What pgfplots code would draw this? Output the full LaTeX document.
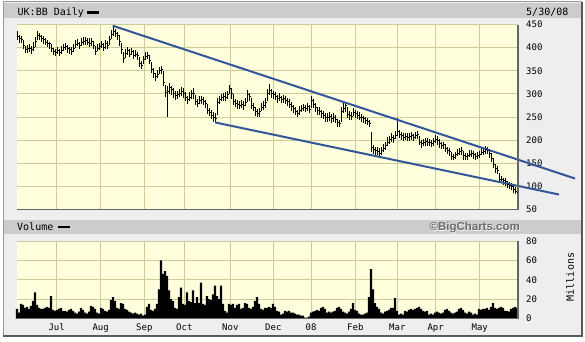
\documentclass[border=0pt]{standalone}
\usepackage{fontspec}
\usepackage{pgfplots}
\usepackage{pgfplotstable}
\pgfplotsset{compat=1.18}
\newfontfamily\mono{DejaVu Sans Mono}
\newfontfamily\bcfont{Liberation Sans}
\definecolor{bgray}{HTML}{EEEEEE}
\definecolor{barg}{HTML}{CCCCCC}
\definecolor{plotbg}{HTML}{FFFFDD}
\definecolor{gridc}{HTML}{CCCC99}
\definecolor{axg}{HTML}{666666}
\definecolor{trend}{HTML}{335599}
\pgfdeclareplotmark{ctick}{\pgfpathmoveto{\pgfpointorigin}\pgfpathlineto{\pgfpoint{1.1pt}{0pt}}\pgfusepathqstroke}
\pgfdeclareplotmark{otick}{\pgfpathmoveto{\pgfpointorigin}\pgfpathlineto{\pgfpoint{-1.1pt}{0pt}}\pgfusepathqstroke}

\pgfplotstableread{
d c u l
0 425 10 8
1 420 8 10
2 418 7 8
3 405 12 7
4 396 8 8
5 399 7 10
6 398 10 7
7 395 8 8
8 400 13 7
9 414 10 13
10 427 8 10
11 424 7 8
12 420 8 7
13 418 7 10
14 412 8 7
15 410 7 8
16 408 5 10
17 398 10 8
18 391 8 7
19 389 7 8
20 393 8 7
21 390 7 8
22 394 10 7
23 400 8 8
24 403 7 8
25 398 8 10
26 395 7 8
27 392 10 7
28 399 8 8
29 407 10 8
30 410 8 7
31 405 8 8
32 411 10 7
33 414 8 8
34 416 7 10
35 412 8 7
36 410 10 8
37 413 8 10
38 405 10 8
39 392 12 8
40 399 8 7
41 403 7 8
42 406 8 7
43 401 10 8
44 408 8 10
45 404 10 8
46 418 8 13
47 428 10 10
48 436 12 10
49 430 10 8
50 426 8 10
51 414 13 10
52 395 15 8
53 377 13 10
54 388 8 10
55 393 8 8
56 386 10 7
57 391 8 8
58 384 10 8
59 386 8 7
60 383 8 10
61 366 13 8
62 362 10 8
63 374 8 10
64 380 10 7
65 383 8 8
66 372 13 7
67 353 15 8
68 345 10 10
69 338 8 10
70 341 10 7
71 350 8 8
72 353 7 10
73 325 24 7
74 303 16 10
75 305 13 56
76 313 10 13
77 310 8 13
78 300 13 8
79 296 10 10
80 299 8 10
81 301 10 8
82 306 8 10
83 302 10 10
84 292 13 7
85 288 8 10
86 293 10 8
87 300 8 10
88 302 10 13
89 284 13 8
90 280 10 8
91 285 10 7
92 288 8 10
93 284 10 8
94 279 8 10
95 264 15 8
96 260 10 8
97 253 13 8
98 250 10 10
99 246 13 10
100 282 10 27
101 288 8 10
102 292 8 7
103 295 7 10
104 293 10 8
105 298 8 10
106 312 8 13
107 300 13 10
108 284 15 8
109 280 10 8
110 278 8 10
111 274 10 7
112 278 8 8
113 276 8 10
114 281 10 7
115 298 10 15
116 294 8 10
117 276 15 8
118 270 10 8
119 262 10 10
120 258 10 8
121 261 8 10
122 270 10 8
123 276 8 10
124 282 10 13
125 300 10 15
126 307 14 10
127 300 10 8
128 298 8 10
129 295 10 8
130 290 8 10
131 292 10 8
132 288 8 8
133 290 7 10
134 286 10 8
135 284 8 10
136 278 10 8
137 272 10 8
138 268 8 10
139 262 10 8
140 258 8 8
141 265 8 10
142 268 7 8
143 270 8 7
144 268 7 8
145 272 8 8
146 266 10 7
147 285 10 15
148 278 10 8
149 270 10 10
150 264 8 10
151 262 10 8
152 258 8 10
153 254 10 8
154 250 8 10
155 248 10 8
156 252 8 10
157 246 10 8
158 250 8 10
159 244 10 8
160 238 8 10
161 236 8 8
162 262 10 22
163 268 13 10
164 275 8 15
165 256 15 8
166 254 10 10
167 252 8 8
168 260 10 8
169 258 8 10
170 254 8 8
171 250 10 7
172 248 8 8
173 246 7 8
174 242 8 7
175 240 7 8
176 236 8 7
177 185 32 10
178 180 10 10
179 178 8 10
180 176 10 8
181 172 10 8
182 178 8 10
183 182 10 8
184 188 8 10
185 196 10 8
186 202 8 10
187 205 10 8
188 204 8 10
189 210 10 8
190 218 29 10
191 212 10 8
192 210 8 10
193 206 10 8
194 208 8 8
195 205 10 7
196 207 8 8
197 210 7 10
198 206 8 8
199 210 8 7
200 212 7 10
201 196 13 7
202 192 8 8
203 194 8 7
204 198 7 10
205 196 8 8
206 195 7 8
207 192 8 7
208 198 7 10
209 202 10 8
210 200 8 10
211 192 10 8
212 188 8 8
213 190 7 10
214 182 10 8
215 178 8 8
216 176 7 10
217 165 10 8
218 163 8 7
219 168 7 8
220 172 8 7
221 176 7 8
222 178 8 10
223 166 10 8
224 164 8 7
225 166 7 8
226 170 8 7
227 172 7 8
228 168 8 8
229 165 7 8
230 166 8 7
231 170 7 8
232 174 8 7
233 176 8 8
234 180 8 10
235 178 7 8
236 172 8 10
237 160 12 8
238 148 13 8
239 138 10 10
240 134 10 8
241 116 13 8
242 114 8 7
243 112 7 8
244 110 8 10
245 104 8 7
246 102 7 8
247 100 8 7
248 94 10 8
249 90 8 7
250 87 7 7
}\price

\pgfplotstableread{
d v
0 10
1 6
2 15
3 14
4 11
5 12
6 10
7 13
8 18
9 27
10 14
11 11
12 10
13 10
14 11
15 12
16 11
17 23
18 9
19 8
20 9
21 10
22 11
23 8
24 8
25 7
26 9
27 10
28 8
29 6
30 5
31 7
32 11
33 9
34 6
35 5
36 7
37 13
38 12
39 10
40 6
41 5
42 11
43 10
44 8
45 7
46 9
47 19
48 22
49 18
50 11
51 10
52 16
53 15
54 10
55 9
56 7
57 6
58 5
59 6
60 5
61 4
62 5
63 3
64 4
65 12
66 15
67 9
68 8
69 10
70 15
71 30
72 60
73 46
74 49
75 44
76 29
77 20
78 18
79 11
80 10
81 22
82 32
83 15
84 14
85 27
86 18
87 17
88 29
89 16
90 22
91 16
92 37
93 15
94 14
95 23
96 20
97 19
98 25
99 34
100 23
101 20
102 34
103 15
104 8
105 6
106 15
107 14
108 15
109 11
110 14
111 15
112 10
113 11
114 16
115 15
116 11
117 10
118 12
119 18
120 22
121 15
122 10
123 9
124 11
125 11
126 12
127 11
128 15
129 12
130 8
131 7
132 4
133 5
134 8
135 7
136 8
137 6
138 6
139 5
140 4
141 4
142 3
143 3
144 1
145 1
146 2
147 6
148 7
149 8
150 9
151 8
152 11
153 12
154 10
155 6
156 7
157 6
158 7
159 8
160 11
161 12
162 10
163 7
164 6
165 5
166 7
167 10
168 16
169 9
170 8
171 5
172 4
173 4
174 5
175 6
176 22
177 51
178 30
179 16
180 12
181 10
182 6
183 5
184 7
185 8
186 9
187 11
188 11
189 21
190 8
191 4
192 5
193 4
194 8
195 7
196 9
197 10
198 9
199 10
200 11
201 12
202 10
203 8
204 7
205 8
206 4
207 5
208 4
209 6
210 7
211 6
212 5
213 6
214 9
215 10
216 8
217 6
218 5
219 6
220 7
221 10
222 11
223 9
224 6
225 5
226 7
227 6
228 4
229 5
230 4
231 10
232 9
233 10
234 10
235 11
236 9
237 12
238 16
239 11
240 10
241 11
242 12
243 11
244 8
245 8
246 7
247 10
248 11
249 12
250 11
}\volume

\pgfplotsset{
  chartbase/.style={
    scale only axis, width=501pt,
    xmin=0, xmax=250.5,
    xtick={19.85,41.85,63.65,83.65,106.65,128.15,147,169.15,190.15,209.35,231.35},
    grid=major, major grid style={gridc, line width=0.9pt},
    axis background/.style={fill=plotbg},
    axis line style={draw=none},
    tick style={draw=none}, major tick length=0pt,
    yticklabel pos=right,
    yticklabel style={font=\mono\fontsize{9}{10}\selectfont, anchor=west, inner sep=0pt, xshift=8pt},
    /pgf/number format/assume math mode=true,
    clip=false,
  }
}

\begin{document}
\begin{tikzpicture}[x=1pt,y=1pt]
\path[use as bounding box] (0,0) rectangle (585,341);
\fill[white] (0,0) rectangle (585,341);
\fill[bgray] (3,5) rectangle (582,339);
\draw[gray!80, line width=1pt] (3,5) -- (3,339) -- (582,339);
\draw[black!65, line width=1.2pt] (3,5) -- (582,5) -- (582,339);
% title bars
\fill[barg] (4,322.5) rectangle (581,338);
\node[anchor=base west, inner sep=0pt, font=\mono\fontsize{10}{12}\selectfont] at (17.5,325.3) {UK:BB Daily};
\fill[black] (87.3,327) rectangle (99.3,330.3);
\node[anchor=base west, inner sep=0pt, font=\mono\fontsize{10}{12}\selectfont] at (526,325.3) {5/30/08};
\fill[barg] (4,107) rectangle (581,121);
\node[anchor=base west, inner sep=0pt, font=\mono\fontsize{10}{12}\selectfont] at (17,110.3) {Volume};
\fill[black] (58.3,112.7) rectangle (70,115.3);
\node[anchor=base east, inner sep=0pt, font=\bcfont\bfseries\fontsize{11.5}{13}\selectfont, text=white] at (520.6,109.7) {\textcopyright BigCharts.com};
\node[anchor=base east, inner sep=0pt, font=\bcfont\bfseries\fontsize{11.5}{13}\selectfont, text=black!58] at (520,110.3) {\textcopyright BigCharts.com};
\node[rotate=90, inner sep=0pt, font=\mono\fontsize{10}{12}\selectfont] at (570,64) {Millions};

% price panel
\begin{axis}[chartbase, at={(17pt,131.5pt)}, anchor=south west, height=185pt,
  ymin=50, ymax=450, ytick={50,100,...,450}, xticklabels={}]
\addplot[black, line width=0.9pt, only marks, mark=ctick,
  error bars/.cd, y dir=both, y explicit, error mark=none,
  error bar style={line width=0.9pt, black}]
  table[x=d, y=c, y error plus=u, y error minus=l] {\price};
\addplot[black, line width=0.9pt, only marks, mark=otick, restrict x to domain=0:250.5]
  table[x expr=\thisrow{d}+1, y=c] {\price};
\addplot[trend, line width=2pt] coordinates {(47.85,447.4) (279,117)};
\addplot[trend, line width=2pt] coordinates {(99,238.3) (271,82.4)};
\draw[axg, line width=1.5pt] (rel axis cs:0,0) -- (rel axis cs:1,0) -- (rel axis cs:1,1);
\end{axis}

% volume panel
\begin{axis}[chartbase, at={(17pt,22.5pt)}, anchor=south west, height=77.5pt,
  ymin=0, ymax=80, ytick={0,20,...,80},
  xticklabels={Jul,Aug,Sep,Oct,Nov,Dec,08,Feb,Mar,Apr,May},
  xticklabel style={font=\mono\fontsize{9}{10}\selectfont, anchor=base, inner sep=0pt, yshift=-11.5pt}]
\addplot[ybar, bar width=2.05pt, fill=black, draw=none] table[x=d, y=v] {\volume};
\draw[axg, line width=1.5pt] (rel axis cs:0,0) -- (rel axis cs:1,0) -- (rel axis cs:1,1);
\end{axis}
\end{tikzpicture}
\end{document}
